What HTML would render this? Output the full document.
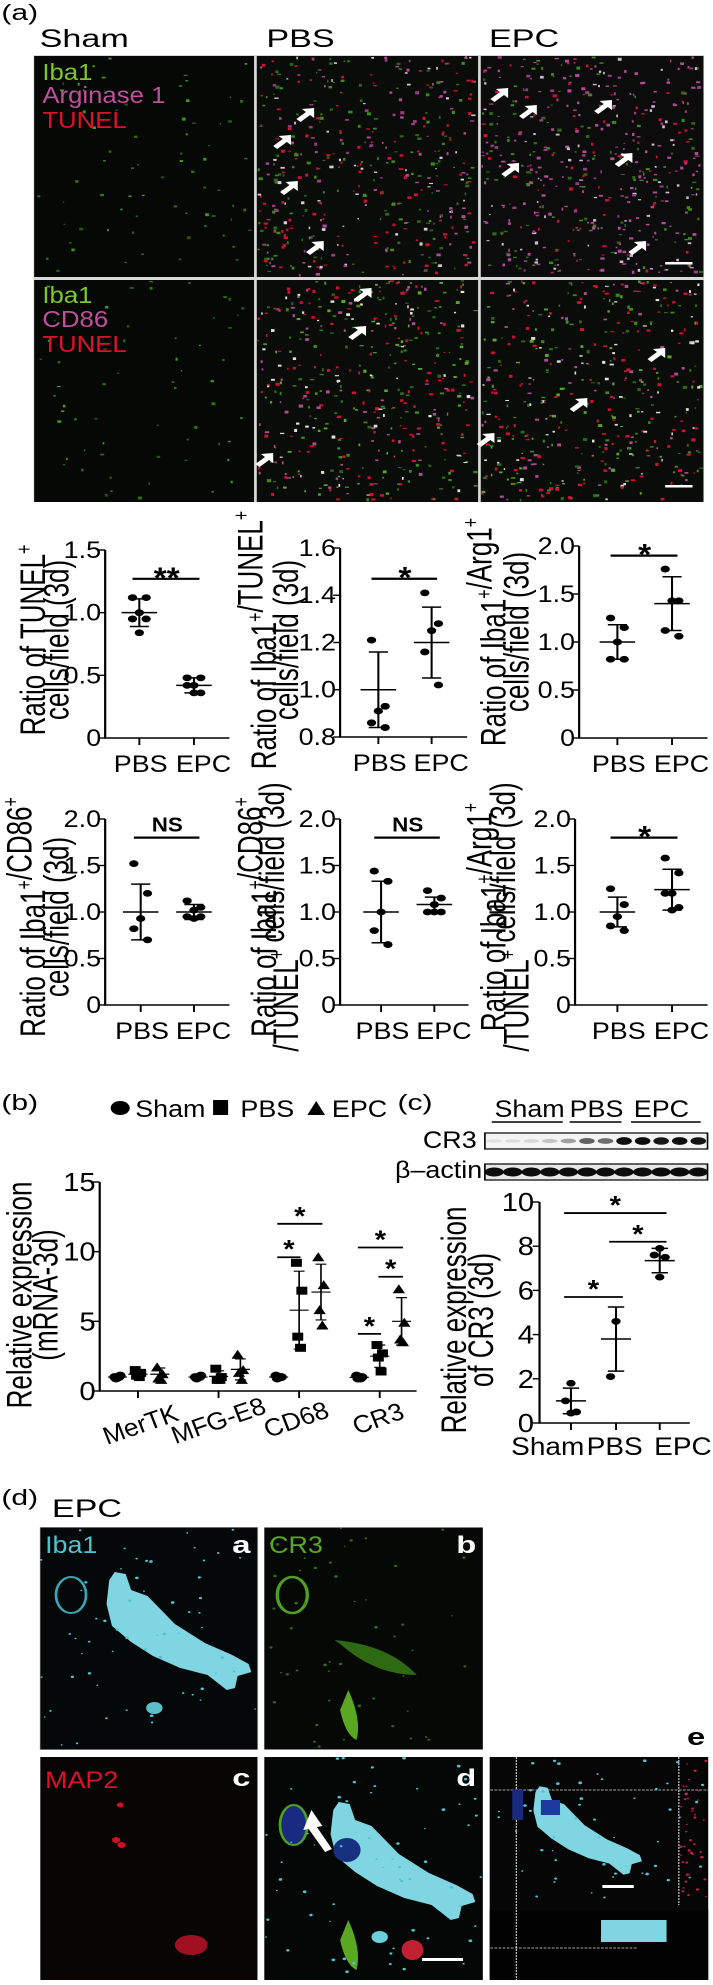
<!DOCTYPE html>
<html><head><meta charset="utf-8">
<style>
html,body{margin:0;padding:0;background:#fff;}
svg{display:block;}
text{font-family:"Liberation Sans",sans-serif;}
</style></head>
<body>
<svg id="fig" xmlns="http://www.w3.org/2000/svg" width="713" height="1985" viewBox="0 0 522 1985" preserveAspectRatio="none">
<rect x="0" y="0" width="522" height="1985" fill="#fff"/>
<text class="reg" x="1" y="20" font-size="22">(a)</text>
<text class="reg" x="29" y="47" font-size="25">Sham</text>
<text class="reg" x="195" y="47" font-size="25">PBS</text>
<text class="reg" x="358" y="47" font-size="25">EPC</text>
<g id="micro-a">
  <rect x="24.5" y="55" width="491" height="447" fill="#d8d8d8"/>
  <rect x="25" y="56" width="161" height="221" fill="#060806"/>
  <rect x="188" y="56" width="162" height="221" fill="#0a0c0a"/>
  <rect x="352" y="56" width="163" height="221" fill="#0c0c0c"/>
  <rect x="25" y="280" width="161" height="222" fill="#060806"/>
  <rect x="188" y="280" width="162" height="222" fill="#0a0c0a"/>
  <rect x="352" y="280" width="163" height="222" fill="#0a0c0a"/>
</g>
<g id="specks"></g>
<g id="arrows"></g>
<g font-size="23">
  <text x="31" y="80" fill="#7ec629">Iba1</text>
  <text x="31" y="103" fill="#c0509a">Arginase 1</text>
  <text x="31" y="128" fill="#e0102a">TUNEL</text>
  <text x="31" y="303" fill="#7ec629">Iba1</text>
  <text x="31" y="327" fill="#c0509a">CD86</text>
  <text x="31" y="352" fill="#e0102a">TUNEL</text>
</g>
<rect x="487" y="262" width="20" height="2.5" fill="#fff"/>
<rect x="487" y="485" width="20" height="2.5" fill="#fff"/>

<g id="plots"></g>

<text class="reg" x="1" y="1110" font-size="22">(b)</text>
<g>
  <circle cx="88" cy="1108" r="7" fill="#000"/>
  <text x="99" y="1117" font-size="24">Sham</text>
  <rect x="156" y="1100" width="11" height="15" fill="#000"/>
  <text x="176" y="1117" font-size="24">PBS</text>
  <polygon points="225,1115 238,1115 231.5,1101" fill="#000"/>
  <text x="243" y="1117" font-size="24">EPC</text>
</g>
<g id="chartb"></g>

<text class="reg" x="291" y="1110" font-size="22">(c)</text>
<g id="blot">
  <text x="362" y="1117" font-size="24">Sham</text>
  <line x1="360" y1="1122" x2="412" y2="1122" stroke="#000" stroke-width="1.5"/>
  <text x="417" y="1117" font-size="24">PBS</text>
  <line x1="417" y1="1122" x2="455" y2="1122" stroke="#000" stroke-width="1.5"/>
  <text x="464" y="1117" font-size="24">EPC</text>
  <line x1="462" y1="1122" x2="513" y2="1122" stroke="#000" stroke-width="1.5"/>
  <text x="349" y="1148" font-size="24" text-anchor="end">CR3</text>
  <text x="353" y="1178" font-size="24" text-anchor="end">β–actin</text>
  <rect x="355" y="1133" width="163" height="16" fill="#f4f4f4" stroke="#000" stroke-width="1.2"/>
  <rect x="355" y="1164" width="163" height="16" fill="#e8e8e8" stroke="#000" stroke-width="1.2"/>
</g>
<g id="chartc"></g>

<text class="reg" x="1" y="1505" font-size="22">(d)</text>
<text class="reg" x="38" y="1517" font-size="25">EPC</text>
<text class="reg" x="503" y="1745" font-size="24" font-weight="bold">e</text>
<g id="paneld">
  <rect x="29" y="1527" width="160" height="223" fill="#d0d0d0"/>
  <rect x="29.5" y="1527.5" width="159" height="222" fill="#050808"/>
  <rect x="193.5" y="1527.5" width="160" height="222" fill="#060806"/>
  <rect x="29.5" y="1757" width="159" height="223" fill="#080505"/>
  <rect x="193.5" y="1757" width="160" height="223" fill="#050707"/>
  <rect x="358.5" y="1757" width="160" height="223" fill="#060606"/>
</g>
<g id="dcells"></g>
<g font-size="24">
  <text x="33" y="1553" fill="#4fc3d0">Iba1</text>
  <text class="reg" x="170" y="1553" fill="#fff" font-weight="bold">a</text>
  <text x="197" y="1553" fill="#5aa822">CR3</text>
  <text class="reg" x="334" y="1553" fill="#fff" font-weight="bold">b</text>
  <text x="33" y="1788" fill="#e0102a">MAP2</text>
  <text class="reg" x="170" y="1786" fill="#fff" font-weight="bold">c</text>
  <text class="reg" x="334" y="1786" fill="#fff" font-weight="bold">d</text>
</g>
</svg>
<script>
// ---------- chart data (panel a dot plots) ----------
const aGroups = ['PBS','EPC'];
const p1_pbs = [1.12,1.12,1.0,0.95,0.95,0.84];
const p1_epc = [0.48,0.48,0.42,0.42,0.36,0.36];
const p1_mean = [1.0,0.42];
const p1_sd = [0.11,0.06];
const p1_ticks = [0,0.5,1.0,1.5];
const p1_tickLabels = ['0','0.5','1.0','1.5'];
const p1_sig = ['**',1.27];

const p2_pbs = [1.21,0.93,0.91,0.86,0.84];
const p2_epc = [1.41,1.28,1.25,1.16,1.02];
const p2_mean = [1.0,1.2];
const p2_sd = [0.16,0.15];
const p2_ticks = [0.8,1.0,1.2,1.4,1.6];
const p2_tickLabels = ['0.8','1.0','1.2','1.4','1.6'];
const p2_sig = ['*',1.47];

const p3_pbs = [1.25,1.15,1.0,0.82,0.82];
const p3_epc = [1.76,1.43,1.43,1.12,1.06];
const p3_mean = [1.0,1.4];
const p3_sd = [0.18,0.28];
const p3_ticks = [0,0.5,1.0,1.5,2.0];
const p3_tickLabels = ['0','0.5','1.0','1.5','2.0'];
const p3_sig = ['*',1.9];

const p4_pbs = [1.52,1.2,0.93,0.82,0.7];
const p4_epc = [1.12,1.05,1.02,0.95,0.95,0.93];
const p4_mean = [1.0,1.0];
const p4_sd = [0.3,0.08];
const p4_ticks = [0,0.5,1.0,1.5,2.0];
const p4_tickLabels = ['0','0.5','1.0','1.5','2.0'];
const p4_sig = ['NS',1.8];

const p5_pbs = [1.44,1.33,1.0,0.8,0.65];
const p5_epc = [1.23,1.15,1.08,1.0,1.0,1.0];
const p5_mean = [1.0,1.08];
const p5_sd = [0.33,0.08];
const p5_ticks = [0,0.5,1.0,1.5,2.0];
const p5_tickLabels = ['0','0.5','1.0','1.5','2.0'];
const p5_sig = ['NS',1.8];

const p6_pbs = [1.25,1.08,0.95,0.85,0.8];
const p6_epc = [1.58,1.42,1.2,1.2,1.05,1.02];
const p6_mean = [1.0,1.24];
const p6_sd = [0.16,0.22];
const p6_ticks = [0,0.5,1.0,1.5,2.0];
const p6_tickLabels = ['0','0.5','1.0','1.5','2.0'];
const p6_sig = ['*',1.8];

// ---------- chart data (panel b) ----------
const bGenes = ['MerTK','MFG-E8','CD68','CR3'];
const bSham = [[1.0,1.1,0.9,1.0],[1.0,1.1,0.9,1.0],[1.1,1.0,0.9,1.0],[1.1,1.0,0.9,0.9]];
const bPbs = [[1.5,1.3,1.1,1.0],[1.6,1.0,0.8,0.8],[9.2,7.2,3.9,3.1],[3.3,2.7,2.4,1.4]];
const bEpc = [[1.7,1.2,0.9,0.8],[2.6,1.5,1.3,0.8],[9.6,7.6,5.8,4.7],[7.3,4.9,3.7,3.5]];
const bShamMean = [1.0,1.0,1.0,0.98];
const bShamSd = [0.08,0.08,0.08,0.1];
const bPbsMean = [1.2,1.05,5.8,2.5];
const bPbsSd = [0.25,0.4,2.8,0.8];
const bEpcMean = [1.2,1.55,7.1,5.0];
const bEpcSd = [0.45,0.75,2.0,1.7];
const bTicks = [0,5,10,15];
const bTickLabels = ['0','5','10','15'];
const bSigGene = [2,2,3,3,3];
const bSigFrom = [0,0,0,0,1];
const bSigTo = [1,2,1,2,2];
const bSigY = [9.6,12.0,4.1,10.3,8.2];

// ---------- chart data (panel c) ----------
const cGroups = ['Sham','PBS','EPC'];
const cSham = [1.8,1.0,0.5,0.45];
const cPbs = [4.6,2.1];
const cEpc = [7.9,7.6,7.5,6.6];
const cMean = [1.0,3.8,7.35];
const cSd = [0.58,1.45,0.55];
const cTicks = [0,2,4,6,8,10];
const cTickLabels = ['0','2','4','6','8','10'];
const cSigFrom = [0,0,1];
const cSigTo = [1,2,2];
const cSigY = [5.7,9.5,8.2];
const blotCR3 = [0.08,0.1,0.12,0.2,0.35,0.6,0.55,0.95,0.95,0.9,0.95,0.92];
const blotActin = [0.95,0.95,0.95,0.95,0.95,0.95,0.95,0.95,0.95,0.95,0.95,0.95];

const SVGNS = 'http://www.w3.org/2000/svg';
function mk(tag, attrs, parent){
  const e = document.createElementNS(SVGNS, tag);
  for (const k in attrs) e.setAttribute(k, attrs[k]);
  parent.appendChild(e);
  return e;
}
function linY(v, vmin, vmax, pmin, pmax){ return pmin + (v - vmin) / (vmax - vmin) * (pmax - pmin); }
function addSup(textEl, parts){
  parts.forEach(p=>{
    const t = document.createElementNS(SVGNS,'tspan');
    if (p[1]) { t.setAttribute('dy','-10'); t.setAttribute('font-size','16'); }
    textEl.appendChild(t);
    t.textContent = p[0];
    if (p[1]) { const r = document.createElementNS(SVGNS,'tspan'); r.setAttribute('dy','10'); r.textContent=''; textEl.appendChild(r); }
  });
}

const plots = document.getElementById('plots');
function dotPlot(cfg, pbs, epc, mean, sd, ticks, tickLabels, sig){
  const g = mk('g', {}, plots);
  
  
  const Y = v => linY(v, ticks[0], ticks[ticks.length-1], cfg.y0, cfg.y1);
  const ax = mk('path', {d:'M'+cfg.ax+' '+cfg.y1+'V'+cfg.y0+'H'+cfg.xend, stroke:'#000', 'stroke-width':1.6, fill:'none'}, g);
  
  
  ticks.forEach((t,i)=>{
    mk('line', {x1:cfg.ax-5, x2:cfg.ax, y1:Y(t), y2:Y(t), stroke:'#000','stroke-width':1.4}, g);
    const tl = mk('text', {x:cfg.ax-3, y:Y(t)+8, 'font-size':24, 'text-anchor':'end'}, g);
    
    
    tl.textContent = tickLabels[i];
  });
  aGroups.forEach((name,i)=>{
    const x = cfg.xs[i];
    mk('line', {x1:x, x2:x, y1:cfg.y0, y2:cfg.y0+7, stroke:'#000','stroke-width':1.4}, g);
    const xl = mk('text', {x:x+(i?7:1), y:cfg.y0+34, 'font-size':24, 'text-anchor':'middle'}, g);
    
    
    xl.textContent = name;
    const vals = i ? epc : pbs;
    const offs = [-5,5,0,-5,5,0];
    vals.forEach((v,j)=>{
      const d = mk('circle', {cx:x+offs[j%6], cy:Y(v), r:3.4, fill:'#000'}, g);
      
      
    });
    const m = Y(mean[i]), hi = Y(mean[i]+sd[i]), lo = Y(mean[i]-sd[i]);
    const eb = mk('path', {d:'M'+(x-13)+' '+m+'H'+(x+13)+'M'+x+' '+hi+'V'+lo+'M'+(x-7)+' '+hi+'H'+(x+7)+'M'+(x-7)+' '+lo+'H'+(x+7), stroke:'#000','stroke-width':1.5, fill:'none'}, g);
    
    
  });
  const sy = Y(sig[1]);
  const sl = mk('line', {x1:cfg.xs[0]-5, x2:cfg.xs[1]+4, y1:sy, y2:sy, stroke:'#000','stroke-width':2.2}, g);
  
  
  const st = mk('text', {x:(cfg.xs[0]+cfg.xs[1])/2, y: sig[0]==='NS'? sy-6 : sy+9, 'font-size': sig[0]==='NS'?20:30, 'text-anchor':'middle', 'font-weight':'bold'}, g);
  
  
  st.textContent = sig[0];
  const t1 = mk('text', {transform:'translate('+cfg.t1+' '+cfg.ty+') rotate(-90)', 'font-size':26, 'text-anchor':'middle'}, g);
  
  
  addSup(t1, cfg.title1);
  const t2 = mk('text', {transform:'translate('+cfg.t2+' '+cfg.ty+') rotate(-90)', 'font-size':26, 'text-anchor':'middle'}, g);
  
  
  addSup(t2, cfg.title2);
}
dotPlot({name:'plot-tunel', ax:77, y0:738, y1:550, xend:168, xs:[102,142], t1:33, t2:50, ty:640,
  title1:[['Ratio of TUNEL'],['+',1]], title2:[['cells/field (3d)']]}, p1_pbs,p1_epc,p1_mean,p1_sd,p1_ticks,p1_tickLabels,p1_sig);
dotPlot({name:'plot-iba1-tunel', ax:249, y0:737, y1:548, xend:342, xs:[277,316], t1:202, t2:218, ty:640,
  title1:[['Ratio of Iba1'],['+',1],['/TUNEL'],['+',1]], title2:[['cells/field (3d)']]}, p2_pbs,p2_epc,p2_mean,p2_sd,p2_ticks,p2_tickLabels,p2_sig);
dotPlot({name:'plot-iba1-arg1', ax:424, y0:738, y1:546, xend:518, xs:[452,492], t1:370, t2:387, ty:632,
  title1:[['Ratio of Iba1'],['+',1],['/Arg1'],['+',1]], title2:[['cells/field (3d)']]}, p3_pbs,p3_epc,p3_mean,p3_sd,p3_ticks,p3_tickLabels,p3_sig);
dotPlot({name:'plot-iba1-cd86', ax:77, y0:1005, y1:819, xend:168, xs:[103,142], t1:33, t2:50, ty:917,
  title1:[['Ratio of Iba1'],['+',1],['/CD86'],['+',1]], title2:[['cells/field (3d)']]}, p4_pbs,p4_epc,p4_mean,p4_sd,p4_ticks,p4_tickLabels,p4_sig);
dotPlot({name:'plot-iba1-cd86-tunel', ax:249, y0:1005, y1:819, xend:343, xs:[279,318], t1:202, t2:218, ty:917,
  title1:[['Ratio of Iba1'],['+',1],['/CD86'],['+',1]], title2:[['/TUNEL'],['+',1],[' cells/field (3d)']]}, p5_pbs,p5_epc,p5_mean,p5_sd,p5_ticks,p5_tickLabels,p5_sig);
dotPlot({name:'plot-iba1-arg1-tunel', ax:421, y0:1005, y1:819, xend:518, xs:[452,492], t1:370, t2:387, ty:917,
  title1:[['Ratio of Iba1'],['+',1],['/Arg1'],['+',1]], title2:[['/TUNEL'],['+',1],[' cells/field (3d)']]}, p6_pbs,p6_epc,p6_mean,p6_sd,p6_ticks,p6_tickLabels,p6_sig);

// ---------- panel b chart ----------
(function(){
  const g = document.getElementById('chartb');
  
  
  const ax=73, y0=1391, y1=1182, xend=305, centers=[101,160,219,278], offs=[-15,0,16];
  const Y = v => linY(v, bTicks[0], bTicks[bTicks.length-1], y0, y1);
  mk('path', {d:'M'+ax+' '+y1+'V'+y0+'H'+xend, stroke:'#000','stroke-width':1.6, fill:'none'}, g);
  bTicks.forEach((t,i)=>{
    mk('line',{x1:ax-5,x2:ax,y1:Y(t),y2:Y(t),stroke:'#000','stroke-width':1.4},g);
    const tl = mk('text',{x:ax-3,y:Y(t)+9,'font-size':26,'text-anchor':'end'},g);
    
    
    tl.textContent = bTickLabels[i];
  });
  const labPos = [[106,1432],[163,1428],[220,1427],[280,1426]];
  bGenes.forEach((gene,gi)=>{
    const c = centers[gi];
    mk('line',{x1:c,x2:c,y1:y0,y2:y0+7,stroke:'#000','stroke-width':1.4},g);
    const xl = mk('text',{transform:'translate('+labPos[gi][0]+' '+labPos[gi][1]+') rotate(-25)','font-size':24,'font-style':'italic','text-anchor':'middle'},g);
    
    
    xl.textContent = gene;
    const sets = [[bSham[gi],bShamMean[gi],bShamSd[gi]],[bPbs[gi],bPbsMean[gi],bPbsSd[gi]],[bEpc[gi],bEpcMean[gi],bEpcSd[gi]]];
    sets.forEach((s,k)=>{
      const x = c + offs[k];
      s[0].forEach((v,j)=>{
        const jx = x + [-2,2,-1,1][j%4];
        const yy = Y(v);
        let m;
        if (k===0) m = mk('circle',{cx:jx,cy:yy,r:4,fill:'#000'},g);
        else if (k===1) m = mk('rect',{x:jx-4,y:yy-4,width:8,height:8,fill:'#000'},g);
        else m = mk('polygon',{points:(jx-4.5)+','+(yy+4)+' '+(jx+4.5)+','+(yy+4)+' '+jx+','+(yy-5),fill:'#000'},g);
        
        
      });
      const mm=Y(s[1]), hi=Y(s[1]+s[2]), lo=Y(s[1]-s[2]);
      const eb = mk('path',{d:'M'+(x-7)+' '+mm+'H'+(x+7)+'M'+x+' '+hi+'V'+lo+'M'+(x-4)+' '+hi+'H'+(x+4)+'M'+(x-4)+' '+lo+'H'+(x+4),stroke:'#000','stroke-width':1.2,fill:'none'},g);
      
      
    });
  });
  bSigY.forEach((v,i)=>{
    const c = centers[bSigGene[i]];
    const xa = c + offs[bSigFrom[i]] - 1, xb = c + offs[bSigTo[i]] + 1;
    const sl = mk('line',{x1:xa,x2:xb,y1:Y(v),y2:Y(v),stroke:'#000','stroke-width':1.8},g);
    
    
    const st = mk('text',{x:(xa+xb)/2,y:Y(v)+1,'font-size':26,'text-anchor':'middle','font-weight':'bold'},g);
    
    
    st.textContent='*';
  });
  const t1 = mk('text',{transform:'translate(23 1295) rotate(-90)','font-size':26,'text-anchor':'middle'},g);
  
  
  t1.textContent='Relative expression';
  const t2 = mk('text',{transform:'translate(42 1295) rotate(-90)','font-size':26,'text-anchor':'middle'},g);
  
  
  t2.textContent='(mRNA-3d)';
})();

// ---------- panel c chart ----------
(function(){
  const g = document.getElementById('chartc');
  
  
  const ax=395, y0=1423, y1=1202, xend=505, xs=[418,451,483];
  const Y = v => linY(v, cTicks[0], cTicks[cTicks.length-1], y0, y1);
  mk('path',{d:'M'+ax+' '+y1+'V'+y0+'H'+xend,stroke:'#000','stroke-width':1.6,fill:'none'},g);
  cTicks.forEach((t,i)=>{
    mk('line',{x1:ax-5,x2:ax,y1:Y(t),y2:Y(t),stroke:'#000','stroke-width':1.4},g);
    const tl = mk('text',{x:ax-4,y:Y(t)+9,'font-size':26,'text-anchor':'end'},g);
    
    
    tl.textContent=cTickLabels[i];
  });
  const labX=[401,450,500];
  const sets=[cSham,cPbs,cEpc];
  cGroups.forEach((name,i)=>{
    const x=xs[i];
    mk('line',{x1:x,x2:x,y1:y0,y2:y0+7,stroke:'#000','stroke-width':1.4},g);
    const xl = mk('text',{x:labX[i],y:1455,'font-size':25,'text-anchor':'middle'},g);
    
    
    xl.textContent=name;
    sets[i].forEach((v,j)=>{
      const d = mk('circle',{cx:x+[0,-4,4,0][j%4],cy:Y(v),r:3.4,fill:'#000'},g);
      
      
    });
    const m=Y(cMean[i]),hi=Y(cMean[i]+cSd[i]),lo=Y(cMean[i]-cSd[i]);
    const eb = mk('path',{d:'M'+(x-11)+' '+m+'H'+(x+11)+'M'+x+' '+hi+'V'+lo+'M'+(x-6)+' '+hi+'H'+(x+6)+'M'+(x-6)+' '+lo+'H'+(x+6),stroke:'#000','stroke-width':1.5,fill:'none'},g);
    
    
  });
  cSigY.forEach((v,i)=>{
    const xa=xs[cSigFrom[i]]-5, xb=xs[cSigTo[i]]+5;
    const sl = mk('line',{x1:xa,x2:xb,y1:Y(v),y2:Y(v),stroke:'#000','stroke-width':1.8},g);
    
    
    const st = mk('text',{x:(xa+xb)/2,y:Y(v)+1,'font-size':26,'text-anchor':'middle','font-weight':'bold'},g);
    
    
    st.textContent='*';
  });
  const t1 = mk('text',{transform:'translate(341 1320) rotate(-90)','font-size':26,'text-anchor':'middle'},g);
  
  
  t1.textContent='Relative expression';
  const t2 = mk('text',{transform:'translate(361 1320) rotate(-90)','font-size':26,'text-anchor':'middle'},g);
  
  
  t2.textContent='of CR3 (3d)';
  const blot = document.getElementById('blot');
  const lw = 163/12;
  blotCR3.forEach((v,i)=>{
    const b = mk('ellipse',{cx:355+lw*(i+0.5),cy:1141,rx:lw*0.42,ry:1.5+2.5*v,fill:'#000','fill-opacity':v},blot);
    
    
  });
  blotActin.forEach((v,i)=>{
    const b = mk('ellipse',{cx:355+lw*(i+0.5),cy:1172,rx:lw*0.52,ry:4.5,fill:'#000','fill-opacity':v},blot);
    
    
  });
})();

// ---------- decorative microscopy textures (deterministic) ----------
(function(){
  let s = 12345;
  const rnd = () => { s = (s*1103515245 + 12345) % 2147483648; return s/2147483648; };
  const sp = document.getElementById('specks');
  function fill(x,y,w,h,n,cols,sz){
    for(let i=0;i<n;i++){
      const c = cols[Math.floor(rnd()*cols.length)];
      mk('rect',{x:x+rnd()*(w-3),y:y+rnd()*(h-3),width:1+rnd()*sz,height:1+rnd()*sz,fill:c},sp);
    }
  }
  fill(25,56,161,221,70,['#1f5a0c','#2c7410','#3c9a18'],2);
  fill(25,280,161,222,60,['#1f5a0c','#2c7410','#3c9a18'],2);
  fill(188,56,162,221,450,['#d01030','#d01030','#b04a92','#9a3a80','#3c8a18','#d8c8d8','#2c6a12'],2.2);
  fill(188,280,162,222,450,['#d01030','#d01030','#b04a92','#3c8a18','#e0e0d8','#2c6a12','#5aa828'],2.2);
  fill(352,56,163,221,500,['#b04a92','#b04a92','#9a3a80','#d01030','#3c8a18','#2c6a12','#d0b8d0'],2.2);
  fill(352,280,163,222,450,['#3c8a18','#2c6a12','#b04a92','#d01030','#d01030','#e0e0d8','#5aa828'],2.2);
  const ar = document.getElementById('arrows');
  const pts = [[230,115],[213,142],[218,188],[237,248],[372,95],[393,112],[448,107],[380,170],[463,160],[473,248],[272,295],[268,333],[200,460],[487,355],[430,405],[362,440]];
  pts.forEach(p=>{
    const a = mk('polygon',{points:'0,0 -9,1 -6,4 -13,11 -10,14 -3,7 0,10',fill:'#fff',transform:'translate('+p[0]+' '+(p[1]-7)+')'},ar);
    
    
  });
  const d = document.getElementById('dcells');
  const cellPts = '80,1580 84,1572 92,1574 96,1590 108,1596 118,1610 128,1624 150,1643 170,1655 182,1664 184,1672 174,1676 172,1688 166,1690 152,1675 132,1668 112,1656 96,1642 82,1626 78,1604';
  mk('polygon',{points:cellPts,fill:'#7fd6e2'},d);
  mk('polygon',{points:cellPts,fill:'#7fd6e2',transform:'translate(164 230)'},d);
  mk('polygon',{points:cellPts,fill:'#7fd6e2',transform:'translate(392 1790) scale(0.75) translate(-80 -1577)'},d);
  mk('circle',{cx:113,cy:1708,r:6,fill:'#5cc0cc'},d);
  mk('circle',{cx:278,cy:1937,r:6,fill:'#6ad0dc'},d);
  mk('ellipse',{cx:52,cy:1595,rx:11,ry:18,fill:'none',stroke:'#3aa8b4','stroke-width':2},d);
  mk('ellipse',{cx:214,cy:1595,rx:11,ry:18,fill:'none',stroke:'#4ea020','stroke-width':2.5},d);
  mk('path',{d:'M255 1690 q10 30 6 50 q-8 -5 -12 -30 z',fill:'#5aa822'},d);
  mk('path',{d:'M245 1640 q40 5 60 35 q-30 0 -55 -30 z',fill:'#2e6a12'},d);
  mk('ellipse',{cx:215,cy:1825,rx:10,ry:20,fill:'#1a2a80',stroke:'#4ea020','stroke-width':2},d);
  mk('ellipse',{cx:254,cy:1850,rx:10,ry:12,fill:'#183080'},d);
  mk('path',{d:'M255 1920 q10 30 6 50 q-8 -5 -12 -30 z',fill:'#5aa822'},d);
  mk('ellipse',{cx:140,cy:1945,rx:12,ry:10,fill:'#a01020'},d);
  mk('ellipse',{cx:302,cy:1950,rx:8,ry:10,fill:'#c02030'},d);
  mk('circle',{cx:88,cy:1805,r:2.5,fill:'#d01020'},d);
  mk('circle',{cx:85,cy:1840,r:3,fill:'#d01020'},d);
  mk('circle',{cx:89,cy:1845,r:3,fill:'#d01020'},d);
  mk('polygon',{points:'228,1810 222,1830 226,1829 238,1852 243,1849 232,1827 236,1826',fill:'#fff'},d);
  mk('rect',{x:309,y:1958,width:30,height:3,fill:'#fff'},d);
  mk('rect',{x:441,y:1885,width:23,height:3,fill:'#fff'},d);
  mk('rect',{x:358.5,y:1910,width:160,height:70,fill:'#020202'},d);
  mk('rect',{x:440,y:1920,width:48,height:22,fill:'#7fd6e2'},d);
  mk('line',{x1:359,x2:519,y1:1790,y2:1790,stroke:'#ddd','stroke-width':0.8,'stroke-dasharray':'2 1'},d);
  mk('line',{x1:359,x2:466,y1:1948,y2:1948,stroke:'#ddd','stroke-width':0.8,'stroke-dasharray':'2 1'},d);
  mk('line',{x1:378,x2:378,y1:1757,y2:1980,stroke:'#ddd','stroke-width':0.8,'stroke-dasharray':'2 1'},d);
  mk('line',{x1:497,x2:497,y1:1757,y2:1905,stroke:'#ddd','stroke-width':0.8,'stroke-dasharray':'2 1'},d);
  mk('rect',{x:375,y:1790,width:8,height:30,fill:'#1a2a80'},d);
  mk('rect',{x:396,y:1800,width:14,height:15,fill:'#1c3aa0'},d);
  function dots(x,y,w,h,n,c){ for(let i=0;i<n;i++) mk('circle',{cx:x+rnd()*w,cy:y+rnd()*h,r:0.6+rnd()*0.8,fill:c},d); }
  dots(30,1528,158,220,60,'#4fc3d0');
  dots(194,1528,159,220,50,'#2a6a14');
  dots(194,1758,159,220,60,'#4fc3d0');
  dots(359,1758,159,140,50,'#4fc3d0');
  dots(498,1760,20,140,40,'#c02040');
})();

// condense horizontal (non-title) text to mimic the narrow typeface of the reference
(function(){
  const texts = document.querySelectorAll('#fig text:not(.reg)');
  texts.forEach(t=>{
    const tr = t.getAttribute('transform') || '';
    if (tr.indexOf('rotate(-90)') >= 0) return;
    try {
      const L = t.getComputedTextLength();
      if (L > 0) {
        t.setAttribute('textLength', (L*0.82).toFixed(1));
        t.setAttribute('lengthAdjust', 'spacingAndGlyphs');
      }
    } catch(e) {}
  });
})();
</script>
</body></html>
